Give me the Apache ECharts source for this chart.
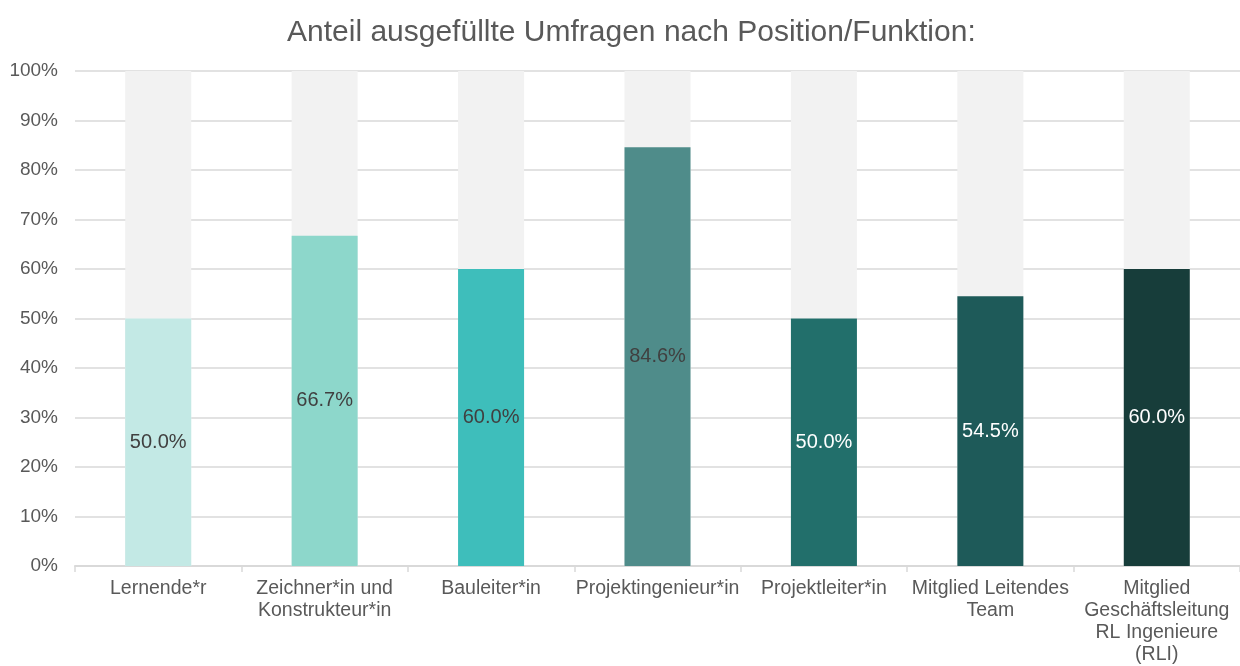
<!DOCTYPE html>
<html>
<head>
<meta charset="utf-8">
<script src="https://cdn.jsdelivr.net/npm/echarts@6/dist/echarts.min.js"></script>
<style>
  html, body { margin: 0; padding: 0; background: #fff; }
  #chart { width: 1240px; height: 666px; }
</style>
</head>
<body>
<div id="chart"></div>
<script>
// Positionen / Funktionen
var categories = [
  'Lernende*r',
  'Zeichner*in und\nKonstrukteur*in',
  'Bauleiter*in',
  'Projektingenieur*in',
  'Projektleiter*in',
  'Mitglied Leitendes\nTeam',
  'Mitglied\nGeschäftsleitung\nRL Ingenieure\n(RLI)'
];
// Anteil ausgefüllt in %
var values = [50.0, 66.7, 60.0, 84.6, 50.0, 54.5, 60.0];
var barColors = ['#c3e9e5', '#8dd7cb', '#3ebebb', '#4f8c8a', '#226f6b', '#1e5a59', '#173d3a'];
var labelColors = ['#404040', '#404040', '#404040', '#404040', '#ffffff', '#ffffff', '#ffffff'];
var yTicks = [0, 10, 20, 30, 40, 50, 60, 70, 80, 90, 100];

var myChart = echarts.init(document.getElementById('chart'));
var font = '"Liberation Sans", Arial, sans-serif';

var option = {
  animation: false,
  title: {
    text: 'Anteil ausgefüllte Umfragen nach Position/Funktion:',
    left: 282,
    top: 13,
    textStyle: { fontFamily: font, fontSize: 30, fontWeight: 'normal', color: '#595959' }
  },
  grid: { left: 75, top: 71, width: 1170, bottom: 100, containLabel: false },
  xAxis: {
    type: 'category',
    data: categories,
    axisLine: { lineStyle: { color: '#d9d9d9', width: 2 } },
    axisTick: { show: true, length: 6, lineStyle: { color: '#d9d9d9', width: 1.5 } },
    axisLabel: {
      fontFamily: font, fontSize: 19.5, color: '#595959',
      lineHeight: 22, margin: 12, interval: 0
    }
  },
  yAxis: {
    type: 'value',
    min: yTicks[0],
    max: yTicks[yTicks.length - 1],
    interval: 10,
    axisLine: { show: false },
    axisTick: { show: false },
    splitLine: { lineStyle: { color: '#d9d9d9', width: 1.5 } },
    axisLabel: {
      fontFamily: font, fontSize: 19, color: '#595959', margin: 17,
      formatter: function (v) { return v + '%'; }
    }
  },
  series: [{
    type: 'bar',
    barWidth: 66,
    showBackground: true,
    backgroundStyle: { color: '#f2f2f2' },
    data: values.map(function (v, i) {
      return {
        value: v,
        itemStyle: { color: barColors[i] },
        label: { color: labelColors[i] }
      };
    }),
    label: {
      show: true,
      position: 'inside',
      fontFamily: font,
      fontSize: 20,
      formatter: function (p) { return p.value.toFixed(1) + '%'; }
    }
  }]
};
myChart.setOption(option);
</script>
</body>
</html>
